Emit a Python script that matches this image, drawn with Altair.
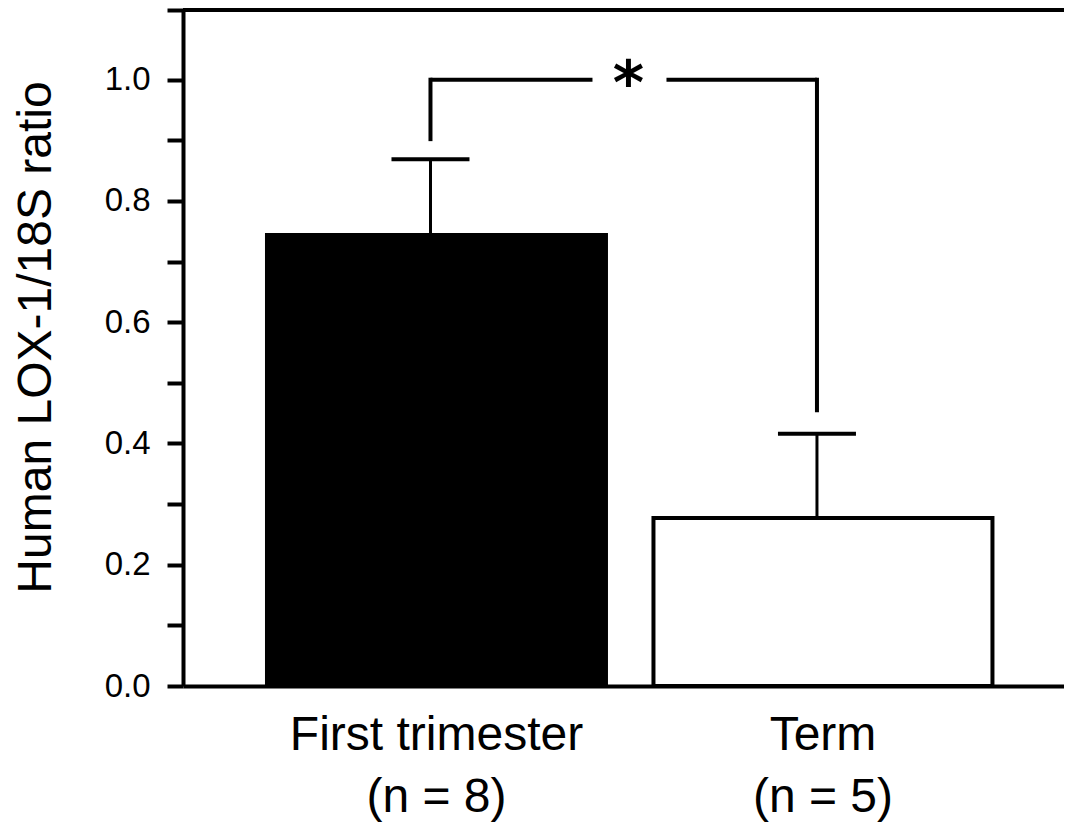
import altair as alt
import pandas as pd

# ---- data ----
categories = ["First trimester", "Term"]
n_sizes = [8, 5]
means = [0.744, 0.277]
sems = [0.125, 0.139]
bracket_level = 1.0
bracket_ends = [0.902, 0.455]
sig_label = "*"
y_max = 1.115
y_tick_values = [0.0, 0.1, 0.2, 0.3, 0.4, 0.5, 0.6, 0.7, 0.8, 0.9, 1.0, y_max]

labels = [f"{c}\n(n = {n})" for c, n in zip(categories, n_sizes)]
df = pd.DataFrame({
    "group": labels,
    "mean": means,
    "upper": [m + s for m, s in zip(means, sems)],
    "bend": bracket_ends,
    "level": [bracket_level] * len(labels),
})
bracket_df = pd.DataFrame({"g1": [labels[0]], "g2": [labels[1]], "level": [bracket_level]})

FONT = "Liberation Sans"

x_enc = alt.X(
    "group:N", sort=labels,
    scale=alt.Scale(domain=labels, paddingInner=0.1229, paddingOuter=0.2012, align=0.54),
    axis=alt.Axis(
        title=None, labelExpr="split(datum.label, '\\n')", labelAngle=0,
        ticks=False, labelPadding=25, labelFontSize=48, labelLineHeight=62,
        labelFont=FONT, labelColor="black", domainWidth=4, domainColor="black",
        labelBaseline="top", labelLimit=600,
    ),
)
y_scale = alt.Scale(domain=[0, y_max], nice=False, zero=True)

bars = alt.Chart(df).mark_bar(stroke="black", strokeWidth=4).encode(
    x=x_enc,
    y=alt.Y(
        "mean:Q", scale=y_scale,
        axis=alt.Axis(
            values=y_tick_values,
            labelExpr="(datum.value <= 1.0 && round(datum.value*10) % 2 == 0) ? format(datum.value, '.1f') : ''",
            labelOverlap=False, tickSize=16, tickWidth=4, tickColor="black",
            domainWidth=4, domainColor="black", grid=False,
            labelFontSize=33, labelFont=FONT, labelColor="black", labelPadding=17,
            title="Human LOX-1/18S ratio", titleFontSize=48, titleFont=FONT,
            titleFontWeight="normal", titleColor="black", titlePadding=44, titleY=327,
        ),
    ),
    color=alt.Color("group:N", scale=alt.Scale(domain=labels, range=["black", "white"]), legend=None),
)

err_line = alt.Chart(df).mark_rule(color="black", strokeWidth=3, xOffset=-6).encode(
    x=alt.X("group:N", sort=labels), y="mean:Q", y2="upper:Q"
)
err_cap = alt.Chart(df).mark_tick(color="black", thickness=4, size=78, xOffset=-6, opacity=1).encode(
    x=alt.X("group:N", sort=labels), y="upper:Q"
)

bracket_v = alt.Chart(df).mark_rule(color="black", strokeWidth=4, xOffset=-6, strokeCap="square").encode(
    x=alt.X("group:N", sort=labels), y="bend:Q", y2="level:Q"
)
bracket_h = alt.Chart(bracket_df).mark_rule(
    color="black", strokeWidth=4, xOffset=-6, x2Offset=-6, strokeDash=[162, 74, 400]
).encode(
    x=alt.X("g1:N", sort=labels), x2="g2:N", y="level:Q"
)
star = alt.Chart(bracket_df).mark_text(
    text=sig_label, font="DejaVu Sans", fontSize=60, fontWeight="bold", color="black",
    dx=192, dy=24, baseline="alphabetic"
).encode(
    x=alt.X("g1:N", sort=labels), y="level:Q"
)

top_border = alt.Chart(df).mark_rule(color="black", strokeWidth=4).encode(y=alt.datum(y_max))

chart = alt.layer(bars, err_line, err_cap, bracket_v, bracket_h, star, top_border).properties(
    width=881, height=676,
    autosize=alt.AutoSizeParams(type="none"),
    padding={"left": 175, "top": 2, "right": 0, "bottom": 138},
    background="white",
).configure_view(stroke=None)

chart.save("out.html", embed_options={"renderer": "svg", "actions": False})
